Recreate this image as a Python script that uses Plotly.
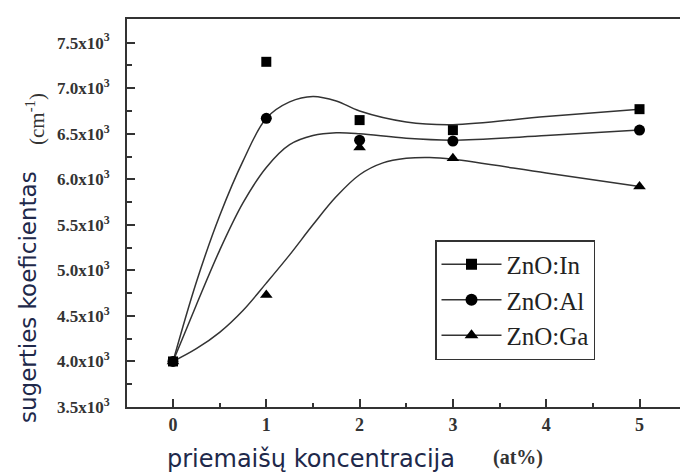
import plotly.graph_objects as go

# Impurity concentration (at%) at which samples were measured
conc = [0, 1, 2, 3, 5]

# Measured absorption coefficient, in units of 10^3 cm^-1
abs_in = [4.0, 7.29, 6.65, 6.54, 6.77]
abs_al = [4.0, 6.67, 6.43, 6.42, 6.54]
abs_ga = [4.0, 4.73, 6.35, 6.23, 5.92]

# Smoothed guide curves (same units)
fit_in_x = [0, 0.25, 0.5, 0.75, 1, 1.25, 1.5, 1.75, 2, 2.5, 3, 4, 5]
fit_in_y = [4.0, 4.87, 5.60, 6.20, 6.67, 6.85, 6.91, 6.86, 6.75, 6.63, 6.60, 6.69, 6.77]
fit_al_x = [0, 0.25, 0.5, 0.75, 1, 1.25, 1.5, 1.75, 2, 2.5, 3, 4, 5]
fit_al_y = [4.0, 4.62, 5.22, 5.74, 6.13, 6.38, 6.48, 6.51, 6.50, 6.45, 6.43, 6.48, 6.54]
fit_ga_x = [0, 0.25, 0.5, 0.75, 1, 1.25, 1.5, 1.75, 2, 2.25, 2.5, 2.75, 3, 4, 5]
fit_ga_y = [4.0, 4.14, 4.32, 4.56, 4.86, 5.17, 5.50, 5.81, 6.05, 6.18, 6.23, 6.24, 6.22, 6.07, 5.92]

series_names = ["ZnO:In", "ZnO:Al", "ZnO:Ga"]
symbols = ["square", "circle", "triangle-up"]
sizes = [10, 11, 11]

W, H = 680, 473
ML, MR, MT, MB = 127, 0, 19, 66
PW, PH = W - ML - MR, H - MT - MB


def px(xp):
    return (xp - ML) / PW


def py(yp):
    return (H - MB - yp) / PH


INK = "#333333"
LABEL_INK = "#333333"
SERIF = "Liberation Serif"
SANS = "DejaVu Sans"
TITLE_INK = "#20284a"

fig = go.Figure()

data = [abs_in, abs_al, abs_ga]
fits = [(fit_in_x, fit_in_y), (fit_al_x, fit_al_y), (fit_ga_x, fit_ga_y)]

for name, (fx, fy) in zip(series_names, fits):
    fig.add_trace(go.Scatter(
        x=fx, y=fy, mode="lines", line=dict(color=INK, width=1.5, shape="spline", smoothing=1.0),
        showlegend=False, hoverinfo="skip"))

for name, ys, sym, sz in zip(series_names, data, symbols, sizes):
    fig.add_trace(go.Scatter(
        x=conc, y=ys, mode="markers", name=name,
        marker=dict(symbol=sym, size=sz, color="black"), showlegend=False))

# legend entries: line with marker, like the key in the box
for i, (name, sym, sz) in enumerate(zip(series_names, symbols, sizes)):
    fig.add_trace(go.Scatter(
        x=[None], y=[None], mode="lines+markers", name=name, legendgroup=f"g{i}",
        line=dict(color=INK, width=1.5), marker=dict(symbol=sym, size=sz + 1, color="black")))

fig.update_layout(
    width=W, height=H,
    margin=dict(l=ML, r=MR, t=MT, b=MB),
    paper_bgcolor="white", plot_bgcolor="white",
    showlegend=True,
    legend=dict(
        x=px(435), y=py(240), xanchor="left", yanchor="top",
        bordercolor=INK, borderwidth=1.5, bgcolor="white",
        font=dict(family=SERIF, size=25, color="#222222"),
        itemwidth=60, tracegroupgap=0, traceorder="grouped",
    ),
    xaxis=dict(
        range=[-0.493, 5.434], showgrid=False, zeroline=False,
        showline=True, linecolor=INK, linewidth=2, mirror=True,
        tickmode="linear", tick0=0, dtick=1,
        ticks="inside", ticklen=8, tickwidth=1.5, tickcolor=INK,
        tickfont=dict(family=SERIF, size=18, color=LABEL_INK, weight="bold"),
        ticklabelstandoff=0,
        minor=dict(dtick=0.5, tick0=0, ticks="inside", ticklen=4, tickwidth=1.5, tickcolor=INK),
    ),
    yaxis=dict(
        range=[3.5, 7.76], showgrid=False, zeroline=False,
        showline=True, linecolor=INK, linewidth=2, mirror=False,
        tickmode="linear", tick0=3.5, dtick=0.5, tickformat=".1f",
        ticksuffix="x10<sup>3</sup>",
        ticks="inside", ticklen=8, tickwidth=1.5, tickcolor=INK,
        tickfont=dict(family=SERIF, size=17, color=LABEL_INK, weight="bold"),
        ticklabelstandoff=12,
        minor=dict(dtick=0.25, tick0=3.5, ticks="inside", ticklen=5, tickwidth=1.5, tickcolor=INK),
    ),
)

fig.add_annotation(
    text="sugerties koeficientas", xref="paper", yref="paper",
    x=px(28), y=py(297), xanchor="center", yanchor="middle", textangle=-90,
    showarrow=False, font=dict(family=SANS, size=23, color=TITLE_INK))
fig.add_annotation(
    text="(cm<sup>-1</sup>)", xref="paper", yref="paper",
    x=px(36), y=py(119), xanchor="center", yanchor="middle", textangle=-90,
    showarrow=False, font=dict(family=SERIF, size=21, color=LABEL_INK))
fig.add_annotation(
    text="priemaišų koncentracija", xref="paper", yref="paper",
    x=px(311), y=py(459), xanchor="center", yanchor="middle",
    showarrow=False, font=dict(family=SANS, size=24, color=TITLE_INK))
fig.add_annotation(
    text="(at%)", xref="paper", yref="paper",
    x=px(518), y=py(457), xanchor="center", yanchor="middle",
    showarrow=False, font=dict(family=SERIF, size=20, color=LABEL_INK, weight="bold"))

fig.write_html("out.html")
